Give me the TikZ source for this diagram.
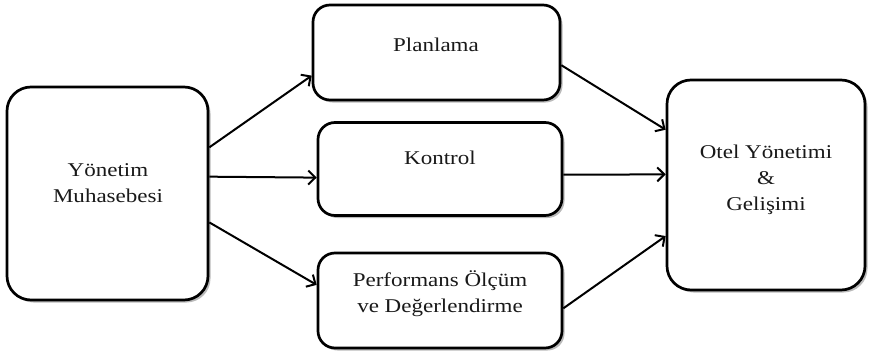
\documentclass[tikz,border=0pt]{standalone}
\usepackage{fontspec}
\setmainfont{Liberation Serif}[FakeStretch=1.18]
\usetikzlibrary{arrows.meta,shadows,calc}
\begin{document}
\begin{tikzpicture}[x=1pt,y=-1pt,
  box/.style={draw=black,line width=2.7pt,fill=white,rounded corners=#1,
    drop shadow={shadow xshift=2.5pt,shadow yshift=-2.5pt,fill=black!45,opacity=0.6}},
  lbl/.style={font=\fontsize{19.5pt}{26pt}\selectfont,align=center,inner sep=0pt,text=black!90},
  arr/.style={line width=2pt,-{Straight Barb[length=7pt,width=14pt,line width=2pt]}}]
\useasboundingbox (0,0) rectangle (872,356);
\node[box=24pt,minimum width=201pt,minimum height=213pt] (L) at (107.5,193.5) {};
\node[box=17pt,minimum width=247pt,minimum height=95pt] (P) at (436.5,52.5) {};
\node[box=17pt,minimum width=244pt,minimum height=93pt] (K) at (440,169) {};
\node[box=17pt,minimum width=244pt,minimum height=95pt] (F) at (440,300.5) {};
\node[box=24pt,minimum width=198pt,minimum height=210pt] (R) at (766,185) {};
\node[lbl] (tL) at (108,183) {Yönetim\\Muhasebesi};
\node[lbl] (tP) at (436,45) {Planlama};
\node[lbl] (tK) at (440,158) {Kontrol};
\node[lbl] (tF) at (440,294) {Performans Ölçüm\\ve Değerlendirme};
\node[lbl] (tR) at (766,180) {Otel Yönetimi\\\&\\Gelişimi};
\draw[arr] ($(L.north east)!0.286!(L.south east)$) -- ($(P.north west)!0.737!(P.south west)$);
\draw[arr] ($(L.north east)!0.422!(L.south east)$) -- ($(K.north west)!0.59!(K.south west)$);
\draw[arr] ($(L.north east)!0.634!(L.south east)$) -- ($(F.north west)!0.34!(F.south west)$);
\draw[arr] ($(P.north east)!0.63!(P.south east)$) -- ($(R.north west)!0.24!(R.south west)$);
\draw[arr] ($(K.north east)!0.56!(K.south east)$) -- ($(R.north west)!0.45!(R.south west)$);
\draw[arr] ($(F.north east)!0.58!(F.south east)$) -- ($(R.north west)!0.74!(R.south west)$);
\end{tikzpicture}
\end{document}
